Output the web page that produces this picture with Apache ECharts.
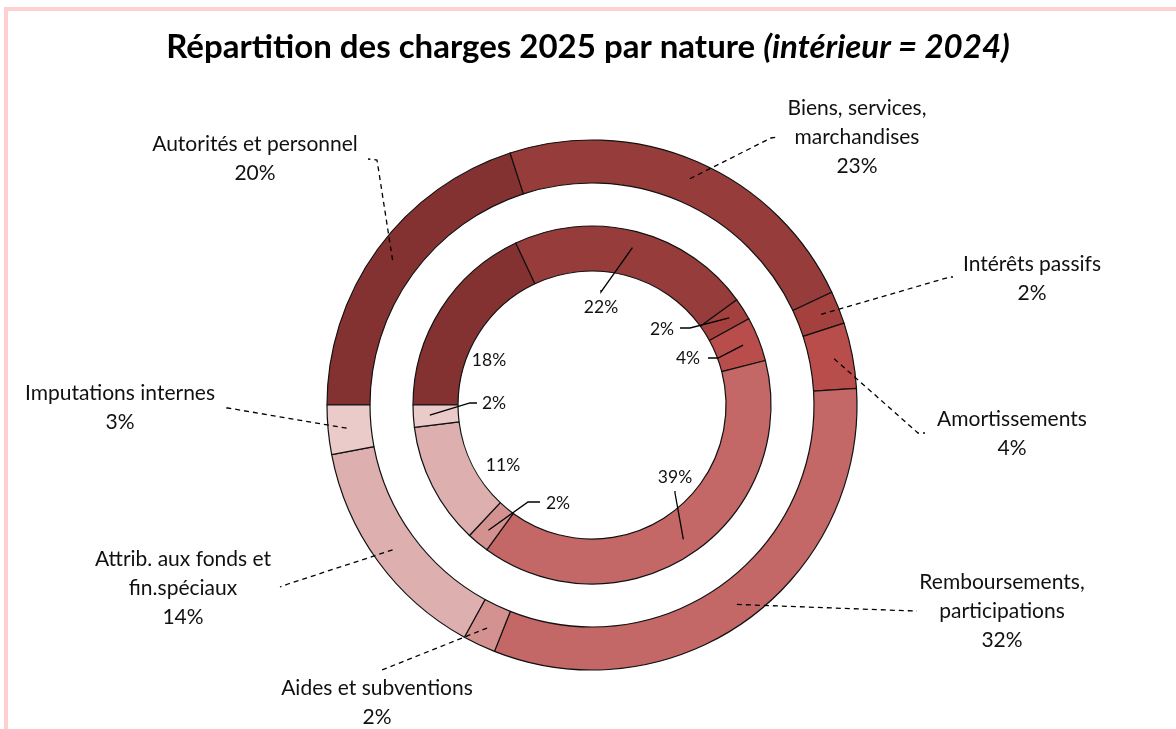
<!DOCTYPE html>
<html>
<head>
<meta charset="utf-8">
<script src="https://cdn.jsdelivr.net/npm/echarts@6/dist/echarts.min.js"></script>
<style>
html,body{margin:0;padding:0;background:#fff;}
#chart{width:1176px;height:729px;}
</style>
</head>
<body>
<div id="chart"></div>
<script>
// ---- data ----
const categories = [
  "Autorités et personnel",
  "Biens, services,\nmarchandises",
  "Intérêts passifs",
  "Amortissements",
  "Remboursements,\nparticipations",
  "Aides et subventions",
  "Attrib. aux fonds et\nfin.spéciaux",
  "Imputations internes"
];
const values2025 = [20, 23, 2, 4, 32, 2, 14, 3];   // outer ring
const values2024 = [18, 22, 2, 4, 39, 2, 11, 2];   // inner ring
const colors = ["#843231", "#963D3C", "#A4413F", "#B84D4B", "#C46767", "#D39190", "#DDAFAF", "#EBCACA"];

// ---- layout (not data) ----
const CX = 592, CY = 405;
const OUTER_R = [222, 265];
const INNER_R = [134, 179];
const START = 270; // clockwise from 12 o'clock (9 o'clock)

function midAngles(vals) {
  const tot = vals.reduce((a, b) => a + b, 0);
  let acc = 0;
  return vals.map(v => { const m = START + (acc + v / 2) / tot * 360; acc += v; return m; });
}
function polar(thetaDeg, r) {
  const t = thetaDeg * Math.PI / 180;
  return [CX + r * Math.sin(t), CY - r * Math.cos(t)];
}

const outerLabelPos = [[255, 159], [857, 137], [1032, 279], [1012, 434], [1002, 611], [377, 703], [183, 588], [120, 408]];
const outerLineRoute = [
  [[377, 160], [368, 159]],
  [[771, 138], [779, 137]],
  [[950, 277], [953, 277]],
  [[918, 433], [925, 433]],
  [[914, 611], [917, 611]],
  [[382, 670], [379, 671]],
  [[288, 584], [280, 587]],
  [[228, 408], [225, 408]]
];
const innerLabelPos = [[489, 360], [601, 307], [662, 329], [688, 358], [675, 477], [558, 503], [503, 465], [494, 403]];
const innerLineRoute = [
  null,
  [[601, 292], [601, 290]],
  [[690, 328], [680, 328]],
  [[718, 358], [708, 358]],
  [[675, 493], [675, 491]],
  [[528, 502], [540, 502]],
  null,
  [[470, 403], [477, 403]]
];

const outerMid = midAngles(values2025);
const innerMid = midAngles(values2024);

const FONT = "Lato";
const chart = echarts.init(document.getElementById('chart'), null, {renderer: 'canvas'});

function makeData(vals, opts) {
  return vals.map((v, i) => {
    const d = {name: categories[i], value: v};
    if (opts.overlay) {
      d.itemStyle = {color: 'rgba(0,0,0,0)', borderWidth: 0};
      if (opts.noLine && opts.noLine.indexOf(i) >= 0) d.labelLine = {show: false};
    } else {
      d.itemStyle = {color: colors[i]};
    }
    return d;
  });
}

const baseCommon = {
  type: 'pie', center: [CX, CY], startAngle: 180, clockwise: true,
  avoidLabelOverlap: false, silent: true, emphasis: {disabled: true}
};

chart.setOption({
  animation: false,
  backgroundColor: '#ffffff',
  title: {
    text: '{a|Répartition des charges 2025 par nature }{b|(intérieur = 2024)}',
    left: 'center',
    top: 26,
    textStyle: {
      rich: {
        a: {fontFamily: FONT, fontSize: 33, fontWeight: 'bold', color: '#000'},
        b: {fontFamily: FONT, fontSize: 33, fontWeight: 'bold', fontStyle: 'italic', color: '#000'}
      }
    }
  },
  graphic: [{
    type: 'rect',
    shape: {x: 6, y: 9, width: 1400, height: 1000},
    style: {fill: 'none', stroke: '#FFD0D0', lineWidth: 4},
    silent: true,
    z: 100
  }],
  series: [
    Object.assign({}, baseCommon, {
      name: '2025', radius: OUTER_R, z: 2,
      itemStyle: {borderColor: '#111', borderWidth: 1.2},
      label: {show: false}, labelLine: {show: false},
      data: makeData(values2025, {})
    }),
    Object.assign({}, baseCommon, {
      name: '2024', radius: INNER_R, z: 2,
      itemStyle: {borderColor: '#111', borderWidth: 1.2},
      label: {show: false}, labelLine: {show: false},
      data: makeData(values2024, {})
    }),
    // label overlays (drawn above the rings so leader lines show over the sectors)
    Object.assign({}, baseCommon, {
      name: '2025 labels', radius: OUTER_R, z: 5,
      label: {
        show: true, position: 'outside', fontFamily: FONT, fontSize: 21, lineHeight: 29,
        color: '#111', align: 'center',
        formatter: p => p.name + '\n' + p.value + '%'
      },
      labelLine: {show: true, lineStyle: {color: '#000', width: 1.3, type: [5, 4]}},
      labelLayout: function (p) {
        const i = p.dataIndex;
        const s = polar(outerMid[i], (OUTER_R[0] + OUTER_R[1]) / 2 + 3);
        return {
          x: outerLabelPos[i][0], y: outerLabelPos[i][1],
          align: 'center', verticalAlign: 'middle',
          labelLinePoints: [s, outerLineRoute[i][0], outerLineRoute[i][1]]
        };
      },
      data: makeData(values2025, {overlay: true})
    }),
    Object.assign({}, baseCommon, {
      name: '2024 labels', radius: INNER_R, z: 5,
      label: {
        show: true, position: 'outside', fontFamily: FONT, fontSize: 17.5,
        color: '#111', align: 'center',
        formatter: p => p.value + '%'
      },
      labelLine: {show: true, lineStyle: {color: '#000', width: 1.3}},
      labelLayout: function (p) {
        const i = p.dataIndex;
        const res = {x: innerLabelPos[i][0], y: innerLabelPos[i][1], align: 'center', verticalAlign: 'middle'};
        if (innerLineRoute[i]) {
          const s = polar(innerMid[i], (INNER_R[0] + INNER_R[1]) / 2 + 6);
          res.labelLinePoints = [s, innerLineRoute[i][0], innerLineRoute[i][1]];
        }
        return res;
      },
      data: makeData(values2024, {overlay: true, noLine: [0, 6]})
    })
  ]
});
</script>
</body>
</html>
